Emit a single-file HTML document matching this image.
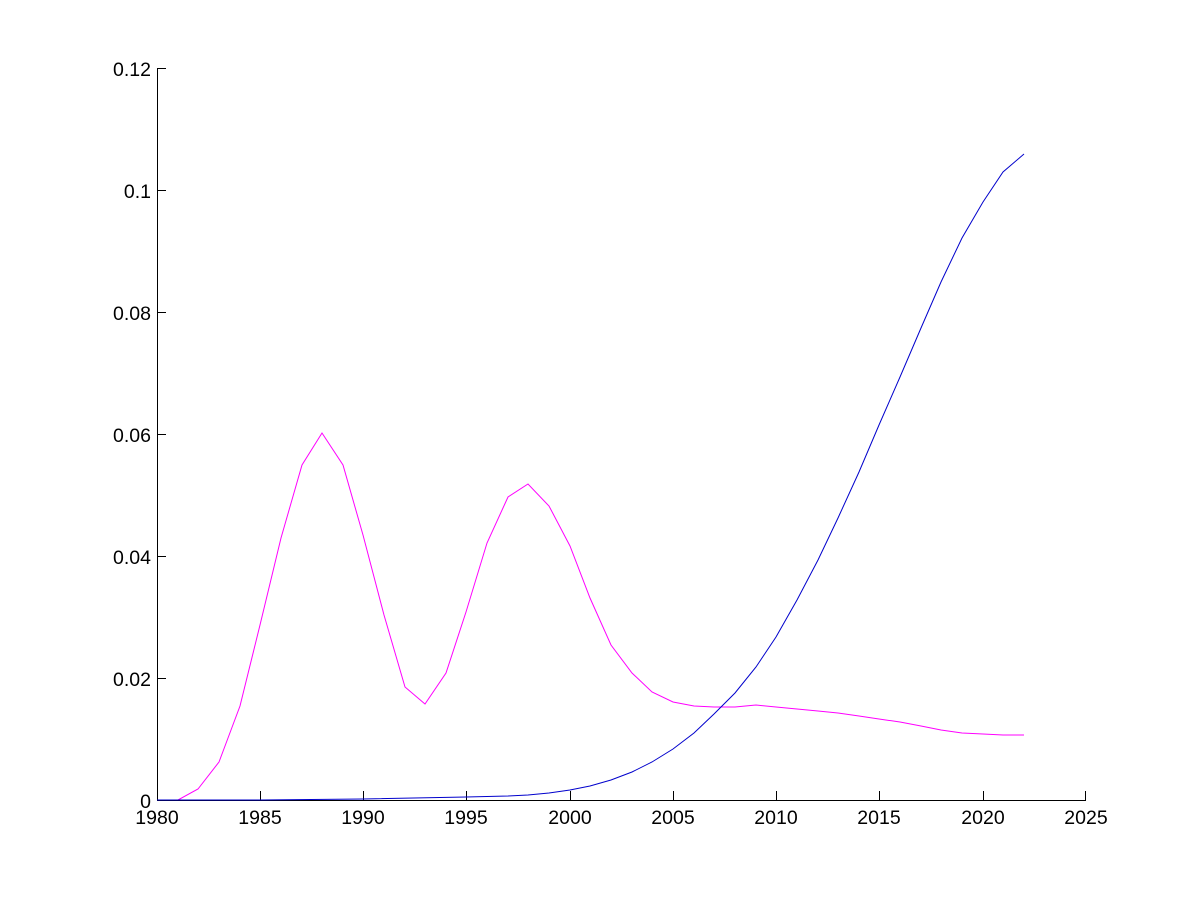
<!DOCTYPE html>
<html><head><style>body{margin:0;background:#fff}svg text{font-family:"Liberation Sans",sans-serif;font-size:19.5px}</style></head><body>
<svg width="1200" height="900" xmlns="http://www.w3.org/2000/svg">
<g stroke="#000" stroke-width="1" fill="none">
<line x1="157.5" y1="68" x2="157.5" y2="800.5"/>
<line x1="157" y1="800.5" x2="1086" y2="800.5"/>
<line x1="157" y1="68.5" x2="166" y2="68.5"/><line x1="157" y1="190.5" x2="166" y2="190.5"/><line x1="157" y1="312.5" x2="166" y2="312.5"/><line x1="157" y1="434.5" x2="166" y2="434.5"/><line x1="157" y1="556.5" x2="166" y2="556.5"/><line x1="157" y1="678.5" x2="166" y2="678.5"/>
<line x1="363.5" y1="800" x2="363.5" y2="791"/><line x1="570.5" y1="800" x2="570.5" y2="791"/><line x1="776.5" y1="800" x2="776.5" y2="791"/><line x1="983.5" y1="800" x2="983.5" y2="791"/>
<line x1="260.5" y1="800" x2="260.5" y2="791"/><line x1="466.5" y1="800" x2="466.5" y2="791"/><line x1="673.5" y1="800" x2="673.5" y2="791"/><line x1="879.5" y1="800" x2="879.5" y2="791"/><line x1="1085.5" y1="800" x2="1085.5" y2="791"/>
</g>
<g text-anchor="end">
<text x="151" y="76">0.12</text><text x="151" y="198">0.1</text><text x="151" y="320">0.08</text><text x="151" y="442">0.06</text><text x="151" y="564">0.04</text><text x="151" y="686">0.02</text><text x="151" y="808">0</text>
</g>
<g text-anchor="middle">
<text x="157" y="824">1980</text><text x="260" y="824">1985</text><text x="363" y="824">1990</text><text x="466" y="824">1995</text><text x="570" y="824">2000</text><text x="673" y="824">2005</text><text x="776" y="824">2010</text><text x="879" y="824">2015</text><text x="983" y="824">2020</text><text x="1086" y="824">2025</text>
</g>
<polyline fill="none" stroke="#f0f" stroke-width="1" points="157,800 178,800 198,789 219,762 240,706 260,625 281,538 302,465 322,433 343,465 363,535 384,615 405,687 425,704 446,673 466,612 487,543 508,497 528,484 549,506 570,546 590,598 611,645 632,673 652,692 673,702 694,706 714,707 735,707 756,705 776,707 797,709 818,711 838,713 859,716 879,719 900,722 921,726 941,730 962,733 983,734 1003,735 1024,735"/>
<polyline fill="none" stroke="#00c" stroke-width="1" points="157,800 260,800 363,799 466,797 508,796 528,795 549,793 570,790 590,786 611,780 632,772 652,762 673,749 694,733 714,714 735,693 756,667 776,637 797,600 818,560 838,518 859,472 879,425 900,377 921,328 941,282 962,238 983,202 1003,172 1024,154"/>
</svg>
</body></html>
